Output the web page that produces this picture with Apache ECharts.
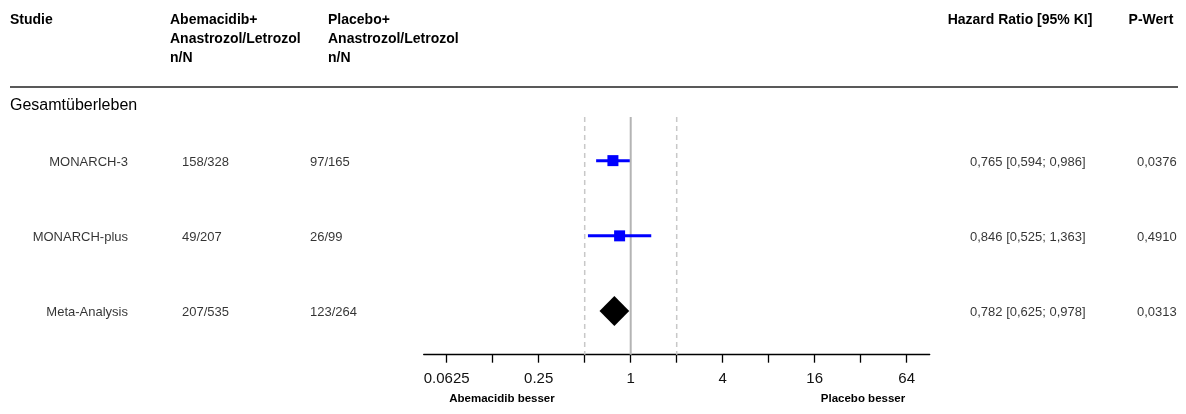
<!DOCTYPE html>
<html>
<head>
<meta charset="utf-8">
<script src="https://cdn.jsdelivr.net/npm/echarts@6/dist/echarts.min.js"></script>
<style>
html,body{margin:0;padding:0;background:#fff;}
#c{width:1186px;height:414px;}
</style>
</head>
<body>
<div id="c"></div>
<script>
// ---- data ----
const studies = ['MONARCH-3', 'MONARCH-plus', 'Meta-Analysis'];
const abemaNN = ['158/328', '49/207', '207/535'];
const placeboNN = ['97/165', '26/99', '123/264'];
const hr = [0.765, 0.846, 0.782];
const lower = [0.594, 0.525, 0.625];
const upper = [0.986, 1.363, 0.978];
const pValues = ['0,0376', '0,4910', '0,0313'];
const pooled = [false, false, true];
const tickValues = [0.0625, 0.125, 0.25, 0.5, 1, 2, 4, 8, 16, 32, 64];
const labelValues = [0.0625, 0.25, 1, 4, 16, 64];
const refLines = [0.5, 1, 2];
const axisRange = [Math.pow(2, -4.5), Math.pow(2, 6.5)];

// ---- helpers ----
const L = v => Math.log2(v);
const fmt = v => v.toFixed(3).replace('.', ',');
const hrText = hr.map((h, i) => fmt(h) + ' [' + fmt(lower[i]) + '; ' + fmt(upper[i]) + ']');

const FONT = '"Liberation Sans", Arial, sans-serif';
const TOP = 117, H = 237.7;
const yMin = -0.58, yMax = 2.58;

const chart = echarts.init(document.getElementById('c'), null, {renderer: 'canvas'});

function textCol(name, xPos, texts, align) {
  return {
    type: 'scatter', name: name, xAxisIndex: 1, yAxisIndex: 1,
    symbolSize: 1, itemStyle: {color: 'rgba(0,0,0,0)'}, silent: true,
    data: texts.map((t, i) => ({value: [xPos, i], label: {formatter: t}})),
    label: {show: true, position: 'inside', align: align, verticalAlign: 'middle',
      color: '#000', fontSize: 13, fontFamily: FONT, offset: [0, 1.5]}
  };
}

const hdr = (x, y, t, align) => ({type: 'text', x: x, y: y,
  style: {text: t, fill: '#000', font: 'bold 14px ' + FONT, align: align || 'left', verticalAlign: 'middle'}});

const option = {
  animation: false,
  backgroundColor: '#fff',
  grid: [
    {left: 423.7, width: 506, top: TOP, height: H, outerBoundsMode: 'none', containLabel: false},
    {left: 0, width: 1186, top: TOP, height: H, outerBoundsMode: 'none', containLabel: false}
  ],
  xAxis: [
    {type: 'value', gridIndex: 0, min: L(axisRange[0]), max: L(axisRange[1]), position: 'bottom',
      splitLine: {show: false},
      axisLine: {show: true, onZero: false, lineStyle: {color: '#000', width: 1.3}},
      axisTick: {show: true, inside: false, length: 8, lineStyle: {color: '#000', width: 1.3},
        customValues: tickValues.map(L)},
      axisLabel: {show: true, margin: 17, color: '#111', fontSize: 15, fontFamily: FONT,
        customValues: labelValues.map(L),
        formatter: v => String(Math.round(Math.pow(2, v) * 10000) / 10000)}},
    {type: 'value', gridIndex: 1, min: 0, max: 1186, show: false}
  ],
  yAxis: [
    {type: 'value', gridIndex: 0, min: yMin, max: yMax, inverse: true, show: false},
    {type: 'value', gridIndex: 1, min: yMin, max: yMax, inverse: true, show: false}
  ],
  series: [
    // reference lines
    {type: 'custom', xAxisIndex: 0, yAxisIndex: 0, silent: true, z: 1,
      data: refLines.map(v => [L(v)]),
      renderItem: (params, api) => {
        const x = api.value(0);
        const p1 = api.coord([x, yMin]), p2 = api.coord([x, yMax]);
        const solid = Math.abs(x) < 1e-9;
        return {type: 'line', shape: {x1: p1[0], y1: p1[1], x2: p2[0], y2: p2[1]},
          style: solid ? {stroke: '#b4b4b4', lineWidth: 2}
                       : {stroke: '#c8c8c8', lineWidth: 1.5, lineDash: [5, 4]}};
      }},
    // CI lines + pooled diamond
    {type: 'custom', xAxisIndex: 0, yAxisIndex: 0, silent: true, z: 3,
      data: hr.map((h, i) => [L(h), i, L(lower[i]), L(upper[i]), pooled[i] ? 1 : 0]),
      renderItem: (params, api) => {
        const c = api.coord([api.value(0), api.value(1)]);
        const lo = api.coord([api.value(2), api.value(1)]);
        const hi = api.coord([api.value(3), api.value(1)]);
        if (api.value(4)) {
          return {type: 'polygon', shape: {points: [[lo[0], c[1]], [c[0], c[1] - 15], [hi[0], c[1]], [c[0], c[1] + 15]]},
            style: {fill: '#000'}};
        }
        return {type: 'group', children: [
          {type: 'line', shape: {x1: lo[0], y1: lo[1], x2: hi[0], y2: hi[1]}, style: {stroke: '#0000ff', lineWidth: 3}},
          {type: 'rect', shape: {x: c[0] - 5.5, y: c[1] - 5.5, width: 11, height: 11}, style: {fill: '#0000ff'}}
        ]};
      }},
    textCol('studie', 128, studies, 'right'),
    textCol('abema', 182, abemaNN, 'left'),
    textCol('placebo', 310, placeboNN, 'left'),
    textCol('hr', 970, hrText, 'left'),
    textCol('p', 1137, pValues, 'left')
  ],
  graphic: [
    hdr(10, 20, 'Studie'),
    hdr(170, 20, 'Abemacidib+'),
    hdr(170, 39, 'Anastrozol/Letrozol'),
    hdr(170, 58, 'n/N'),
    hdr(328, 20, 'Placebo+'),
    hdr(328, 39, 'Anastrozol/Letrozol'),
    hdr(328, 58, 'n/N'),
    hdr(1020, 20, 'Hazard Ratio [95% KI]', 'center'),
    hdr(1151, 20, 'P-Wert', 'center'),
    {type: 'line', shape: {x1: 10, y1: 87, x2: 1178, y2: 87}, style: {stroke: '#222', lineWidth: 1.5}},
    {type: 'text', x: 10, y: 106, style: {text: 'Gesamtüberleben', fill: '#000', font: '16px ' + FONT, verticalAlign: 'middle'}},
    {type: 'text', x: 502, y: 399, style: {text: 'Abemacidib besser', fill: '#000', font: 'bold 11.5px ' + FONT, align: 'center', verticalAlign: 'middle'}},
    {type: 'text', x: 863, y: 399, style: {text: 'Placebo besser', fill: '#000', font: 'bold 11.5px ' + FONT, align: 'center', verticalAlign: 'middle'}}
  ]
};
chart.setOption(option);
</script>
</body>
</html>
